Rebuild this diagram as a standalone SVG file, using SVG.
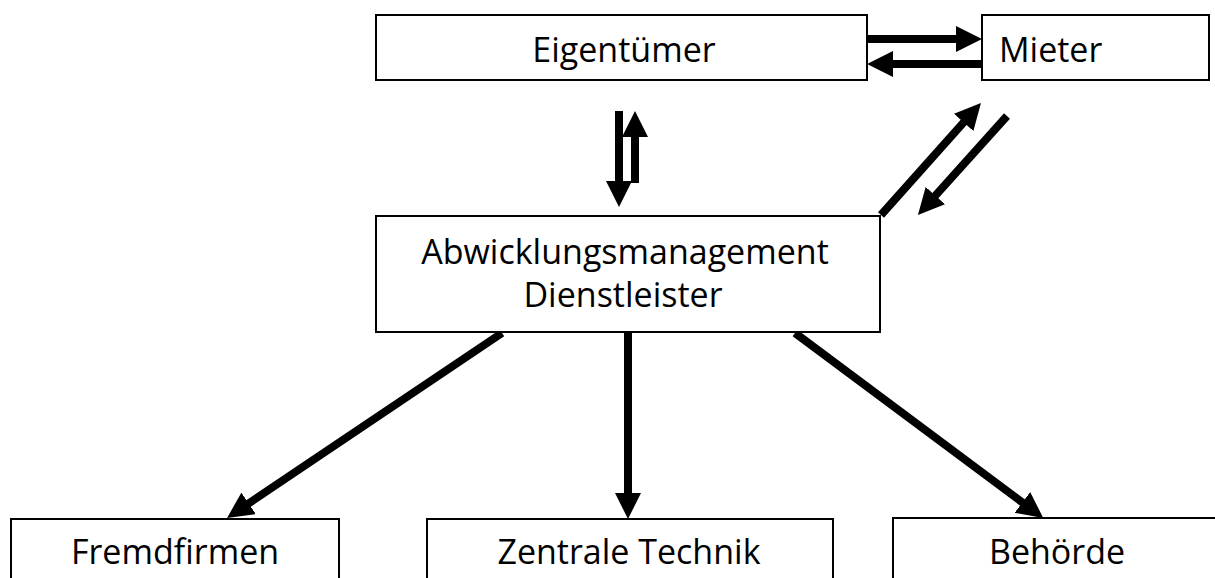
<svg xmlns="http://www.w3.org/2000/svg" width="1215" height="578" viewBox="0 0 1215 578">
<style>
.box{fill:#fff;stroke:#000;stroke-width:2}
.lbl{font-family:"Open Sans","Liberation Sans",sans-serif;font-size:34px;fill:#000}
.mid{text-anchor:middle}
.arr{stroke:#000;stroke-width:8;fill:none;marker-end:url(#ah)}
</style>
<defs>
<marker id="ah" viewBox="0 0 26 26" refX="2" refY="13" markerWidth="26" markerHeight="26" markerUnits="userSpaceOnUse" orient="auto">
<path d="M0,0 L26,13 L0,26 z" fill="#000"/>
</marker>
</defs>
<rect width="1215" height="578" fill="#fff"/>
<g id="connectors">
<line class="arr" x1="867" y1="39" x2="958" y2="39"/>
<line class="arr" x1="982" y1="64" x2="891" y2="64"/>
<line class="arr" x1="619" y1="111" x2="619" y2="183"/>
<line class="arr" x1="635" y1="183" x2="635" y2="135"/>
<line class="arr" x1="881" y1="215" x2="965" y2="120.9"/>
<line class="arr" x1="1007" y1="116" x2="934" y2="197.1"/>
<line class="arr" x1="502" y1="333" x2="247" y2="504.5"/>
<line class="arr" x1="628" y1="333" x2="628" y2="495"/>
<line class="arr" x1="795" y1="333" x2="1024" y2="503.6"/>
</g>
<g id="eigentuemer">
<rect class="box" x="376" y="15" width="491" height="65"/>
<text class="lbl mid" x="624" y="62">Eigentümer</text>
</g>
<g id="mieter">
<rect class="box" x="982" y="15" width="227" height="65"/>
<text class="lbl" x="999" y="62">Mieter</text>
</g>
<g id="abwicklungsmanagement">
<rect class="box" x="376" y="216" width="504" height="116"/>
<text class="lbl mid" x="625" y="264">Abwicklungsmanagement</text>
<text class="lbl mid" x="623" y="307">Dienstleister</text>
</g>
<g id="fremdfirmen">
<rect class="box" x="11" y="519" width="328" height="80"/>
<text class="lbl mid" x="175" y="564">Fremdfirmen</text>
</g>
<g id="zentrale-technik">
<rect class="box" x="427" y="519" width="406" height="80"/>
<text class="lbl mid" x="629" y="564">Zentrale Technik</text>
</g>
<g id="behoerde">
<rect class="box" x="893" y="518" width="340" height="80"/>
<text class="lbl mid" x="1057" y="564">Behörde</text>
</g>
</svg>
